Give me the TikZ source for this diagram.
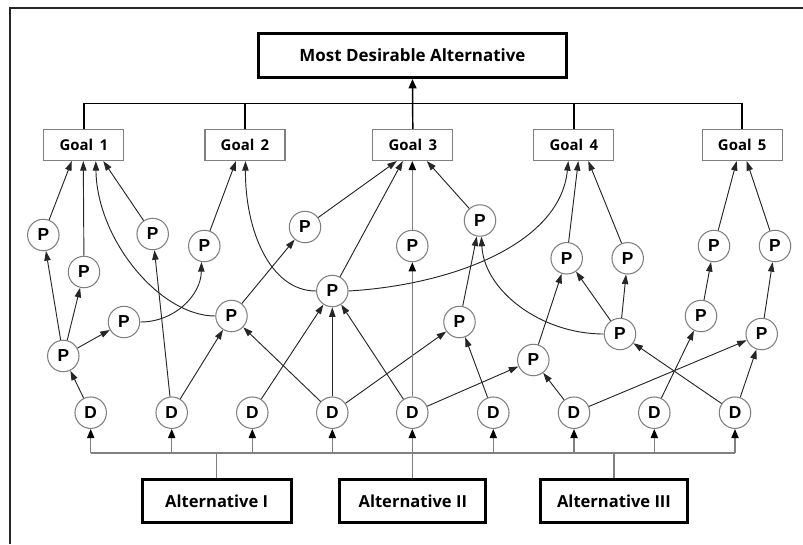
\documentclass[tikz,border=0pt]{standalone}
\usepackage{fontspec}
\setmainfont{Open Sans}
\newfontfamily\circfont{Liberation Sans}
\usetikzlibrary{arrows.meta,calc}

\definecolor{edgegray}{HTML}{808080}
\definecolor{linedark}{HTML}{262626}

\begin{document}
\begin{tikzpicture}[x=0.75pt,y=-0.75pt,
  topbox/.style={draw=black, line width=2.4pt, minimum width=231pt, minimum height=33pt,
    inner sep=0pt, font=\bfseries\fontsize{12.7}{15}\selectfont},
  goalbox/.style={draw=edgegray, line width=0.8pt, minimum width=60pt, minimum height=23.25pt,
    inner sep=0pt, font=\bfseries\fontsize{11.2}{13}\selectfont},
  altbox/.style={draw=black, line width=2pt, minimum height=32.5pt,
    inner sep=0pt, font=\bfseries\fontsize{12.4}{15}\selectfont},
  pnode/.style={circle, draw=edgegray, line width=0.8pt, minimum size=23.6pt, inner sep=0pt,
    font=\circfont\bfseries\fontsize{13}{15}\selectfont},
  arr/.style={draw=linedark, line width=0.7pt, -{Triangle[length=7.2pt,width=4.8pt]}},
  graybus/.style={draw=edgegray, line width=0.9pt},
  busarr/.style={draw=edgegray, line width=0.9pt, -{Triangle[length=6.8pt,width=5.4pt,color=black]}},
  grayarr/.style={draw=edgegray, line width=1.1pt, -{Triangle[length=6.8pt,width=5.4pt,color=black]}},
]
\useasboundingbox (0,0) rectangle (803,544);

% frame edges
\draw[draw=linedark, line width=0.8pt] (10,544) -- (10,8) -- (803,8);

% top level
\node[topbox] (top) at (412.5,55.5) {Most Desirable Alternative};

% goals
\node[goalbox] (g1) at (83.8,145) {Goal\, 1};
\node[goalbox] (g2) at (245,145) {Goal\, 2};
\node[goalbox] (g3) at (412.8,145) {Goal\, 3};
\node[goalbox] (g4) at (573.8,145) {Goal\, 4};
\node[goalbox] (g5) at (742.2,145) {Goal\, 5};

% alternatives
\node[altbox, minimum width=111.75pt] (a1) at (216.7,501) {Alternative I};
\node[altbox, minimum width=109.5pt] (a2) at (412.8,501) {Alternative II};
\node[altbox, minimum width=110.25pt] (a3) at (614,501) {Alternative III};

% D nodes
\foreach \i/\x in {1/90.7,2/171.7,3/252.3,4/332.3,5/412.3,6/493.3,7/574,8/654.3,9/735}
  \node[pnode] (d\i) at (\x,412.7) {D};

% P nodes
\node[pnode] (p1) at (43.3,235) {P};
\node[pnode] (p2) at (84,272) {P};
\node[pnode] (p3) at (152.7,234) {P};
\node[pnode] (p4) at (204.3,246) {P};
\node[pnode] (p5) at (305,227) {P};
\node[pnode] (p6) at (124,322) {P};
\node[pnode] (p7) at (63.3,356) {P};
\node[pnode] (p8) at (231.5,316) {P};
\node[pnode] (p9) at (332.3,291) {P};
\node[pnode] (p10) at (480,220.5) {P};
\node[pnode] (p11) at (412.3,246) {P};
\node[pnode] (p12) at (566.7,258.3) {P};
\node[pnode] (p13) at (627.7,258.3) {P};
\node[pnode] (p14) at (714,246) {P};
\node[pnode] (p15) at (775,246) {P};
\node[pnode] (p16) at (459.5,322) {P};
\node[pnode] (p17) at (620,334) {P};
\node[pnode] (p18) at (701,316) {P};
\node[pnode] (p19) at (761.7,334) {P};
\node[pnode] (p20) at (533.3,360) {P};

% goal bus to the top box
\coordinate (tbus) at (412.8,103.3);
\draw[draw=black, line width=1.1pt] (g1.north) -- (g1.north |- tbus) -- (g5.north |- tbus) -- (g5.north);
\draw[draw=black, line width=1.1pt] (g2.north) -- (g2.north |- tbus);
\draw[draw=black, line width=1.1pt] (g4.north) -- (g4.north |- tbus);
\draw[draw=black, line width=1.1pt, -{Triangle[length=7pt,width=6pt]}] (g3.north) -- (top.south);

% alternatives bus to the D nodes
\coordinate (lbus) at (412.3,453);
\draw[graybus] (d1 |- lbus) -- (d9 |- lbus);
\draw[graybus] (a1.north) -- (a1.north |- lbus);
\draw[graybus] (a3.north) -- (a3.north |- lbus);
\foreach \i in {1,2,3,4,6,7,8,9}
  \draw[busarr] (d\i |- lbus) -- (d\i);
\draw[grayarr] (d5 |- a2.north) -- (d5);

% D to P
\draw[arr] (d1) -- (p7);
\draw[arr] (d2) -- (p3);
\draw[arr] (d2) -- (p8);
\draw[arr] (d3) -- (p9);
\draw[arr] (d4) -- (p8);
\draw[arr] (d4) -- (p9);
\draw[arr] (d4) -- (p16);
\draw[arr] (d5) -- (p9);
\draw[grayarr] (d5) -- (p11);
\draw[arr] (d5) -- (p20);
\draw[arr] (d6) -- (p16);
\draw[arr] (d7) -- (p20);
\draw[arr] (d7) -- (p19);
\draw[arr] (d8) -- (p18);
\draw[arr] (d9) -- (p17);
\draw[arr] (d9) -- (p19);

% P to P
\draw[arr] (p7) -- (p1);
\draw[arr] (p7) -- (p2);
\draw[arr] (p7) -- (p6);
\draw[arr] (p6.east) .. controls (175,322) and (201,295) .. (p4.260);
\draw[arr] (p8) -- (p5);
\draw[arr] (p16) -- (p10);
\draw[arr] (p17.west) .. controls (540,334) and (484,290) .. (p10.275);
\draw[arr] (p20) -- (p12);
\draw[arr] (p17) -- (p12);
\draw[arr] (p17) -- (p13);
\draw[arr] (p18) -- (p14);
\draw[arr] (p19) -- (p15);

% P to goals
\draw[arr] (p1) -- ($(g1.south)+(-12,0)$);
\draw[arr] (p2) -- ($(g1.south)+(-0.5,0)$);
\draw[arr] (p8.west) .. controls (160,316) and (97,240) .. ($(g1.south)+(12,0)$);
\draw[arr] (p3) -- ($(g1.south)+(19.5,0)$);
\draw[arr] (p4) -- ($(g2.south)+(-9,0)$);
\draw[arr] (p9.west) .. controls (270,291) and (245,230) .. ($(g2.south)+(0.5,0)$);
\draw[arr] (p5) -- ($(g3.south)+(-16,0)$);
\draw[arr] (p9) -- ($(g3.south)+(-10,0)$);
\draw[grayarr] (p11) -- (p11 |- g3.south);
\draw[arr] (p10) -- ($(g3.south)+(14,0)$);
\draw[arr] (p9.east) .. controls (450,285) and (560,245) .. ($(g4.south)+(-5.5,0)$);
\draw[arr] (p12) -- ($(g4.south)+(4.5,0)$);
\draw[arr] (p13) -- ($(g4.south)+(14.5,0)$);
\draw[arr] (p14) -- ($(g5.south)+(-5.5,0)$);
\draw[arr] (p15) -- ($(g5.south)+(4.5,0)$);
\end{tikzpicture}
\end{document}
